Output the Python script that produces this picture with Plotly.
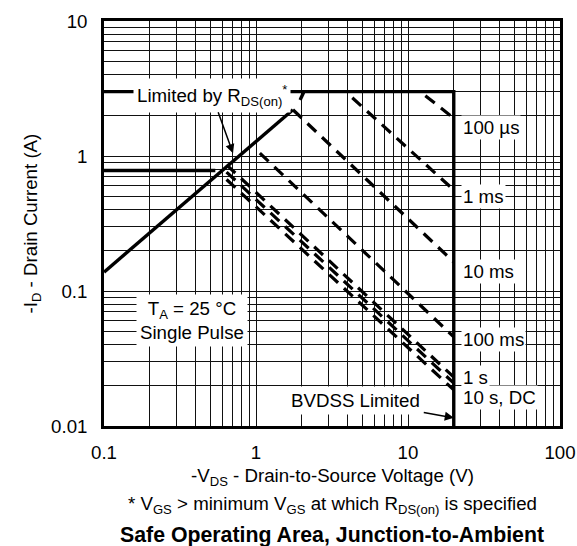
import numpy as np
import plotly.graph_objects as go

# ---------------- data ----------------
# R_DS(on) limit (solid rising line)
rds_v = [0.1, 1.75]
rds_i = [0.138, 2.2]
rds_tip_v = [1.95, 2.07]
rds_tip_i = [2.6, 3.0]
# current limit (3 A) and BVDSS limit (20 V)
limit_v = [0.1, 20, 20]
limit_i = [3.0, 3.0, 0.01]
# flat segment at left
flat_v = [0.1, 0.54]
flat_i = [0.78, 0.78]

# pulse-width lines (dashed)
pulse_names = ["100 µs", "1 ms", "10 ms", "100 ms", "1 s", "10 s", "DC"]
pulse_start_v = [13.0, 4.3, 1.75, 1.06, 0.64, 0.64, 0.64]
pulse_start_i = [2.8, 2.7, 2.2, 1.05, 0.86, 0.76, 0.67]
pulse_end_v = [20, 20, 20, 20, 20, 20, 20]
pulse_end_i = [1.9, 0.56, 0.164, 0.0457, 0.023, 0.0208, 0.0185]

# right-side labels
right_labels = ["100 µs", "1 ms", "10 ms", "100 ms", "10 s, DC", "1 s"]
right_label_i = [1.64, 0.497, 0.1406, 0.0434, 0.0164, 0.0227]

# axes
x_decades = [0.1, 1, 10, 100]
x_decade_text = ["0.1", "1", "10", "100"]
y_decades = [0.01, 0.1, 1, 10]
y_decade_text = ["0.01", "0.1", "1", "10"]

FONT = "Liberation Sans, Arial, Helvetica, sans-serif"
FS = 18.7


def minor_vals(decades):
    return [m * d for d in decades[:-1] for m in range(2, 10)]


def tfont(size=FS):
    return dict(family=FONT, size=size, color="black")


fig = go.Figure()

solid = dict(color="black", width=3.4)
fig.add_trace(go.Scatter(x=rds_v, y=rds_i, mode="lines", line=solid, showlegend=False))
fig.add_trace(go.Scatter(x=rds_tip_v, y=rds_tip_i, mode="lines", line=solid, showlegend=False))
fig.add_trace(go.Scatter(x=limit_v, y=limit_i, mode="lines", line=solid, showlegend=False))
fig.add_trace(go.Scatter(x=flat_v, y=flat_i, mode="lines", line=solid, showlegend=False))

for n, x0, y0, x1, y1 in zip(pulse_names, pulse_start_v, pulse_start_i, pulse_end_v, pulse_end_i):
    fig.add_trace(go.Scatter(x=[x0, x1], y=[y0, y1], mode="lines", name=n,
                             line=dict(color="black", width=3.2, dash="12px,8px"),
                             showlegend=False))

annos = []
for txt, yy in zip(right_labels, right_label_i):
    annos.append(dict(x=np.log10(20), y=np.log10(yy), xref="x", yref="y", text=txt,
                      showarrow=False, xanchor="left", yanchor="middle", xshift=7,
                      bgcolor="white", borderpad=1, font=tfont()))

annos.append(dict(x=np.log10(0.706), y=np.log10(1.05), xref="x", yref="y",
                  text="Limited by R<sub>DS(on)</sub><sup>*</sup>",
                  showarrow=True, ax=-21, ay=-58, arrowhead=2, arrowsize=1.2,
                  arrowwidth=1.5, arrowcolor="black", bgcolor="white", borderpad=3,
                  font=tfont()))
annos.append(dict(x=np.log10(20), y=np.log10(0.0115), xref="x", yref="y",
                  text="BVDSS Limited",
                  showarrow=True, ax=-98, ay=-17, arrowhead=2, arrowsize=1.2,
                  arrowwidth=1.5, arrowcolor="black", bgcolor="white", borderpad=3,
                  font=tfont()))
annos.append(dict(x=-0.421, y=-1.215, xref="x", yref="y",
                  text="T<sub>A</sub> = 25 °C<br>Single Pulse", showarrow=False,
                  bgcolor="white", borderpad=3, font=tfont()))
# axis titles, footnote and caption
annos.append(dict(x=0.5, y=-0.126, xref="paper", yref="paper",
                  text="-V<sub>DS</sub> - Drain-to-Source Voltage (V)",
                  showarrow=False, xanchor="center", yanchor="middle", font=tfont()))
annos.append(dict(x=-0.158, y=0.5, xref="paper", yref="paper",
                  text="-I<sub>D</sub> - Drain Current (A)", textangle=-90,
                  showarrow=False, xanchor="center", yanchor="middle", font=tfont()))
annos.append(dict(x=0.5, y=-0.195, xref="paper", yref="paper",
                  text="* V<sub>GS</sub> > minimum V<sub>GS</sub> at which R<sub>DS(on)</sub> is specified",
                  showarrow=False, xanchor="center", yanchor="middle", font=tfont()))
annos.append(dict(x=0.5, y=-0.269, xref="paper", yref="paper",
                  text="<b>Safe Operating Area, Junction-to-Ambient</b>",
                  showarrow=False, xanchor="center", yanchor="middle", font=tfont(21.3)))

axis_common = dict(type="log", showgrid=True, gridcolor="#111", gridwidth=1.3,
                   showline=True, mirror=True, linecolor="black", linewidth=2.6,
                   ticks="", zeroline=False, automargin=False,
                   tickfont=tfont())

fig.update_layout(
    width=577, height=546,
    margin=dict(l=104, r=17, t=21, b=120, autoexpand=False),
    paper_bgcolor="white", plot_bgcolor="white",
    showlegend=False,
    xaxis=dict(axis_common, range=[-1, 2], tickmode="array",
               tickvals=x_decades, ticktext=x_decade_text,
               minor=dict(tickvals=minor_vals(x_decades), showgrid=True,
                          gridcolor="#111", gridwidth=1.3, ticks=""),
               ticklabelstandoff=8),
    yaxis=dict(axis_common, range=[-2, 1], tickmode="array",
               tickvals=y_decades, ticktext=y_decade_text,
               minor=dict(tickvals=minor_vals(y_decades), showgrid=True,
                          gridcolor="#111", gridwidth=1.3, ticks=""),
               ticklabelstandoff=10),
    annotations=annos,
)

# remove the browser's default 8 px body margin so the figure fills the window
fig.write_html("out.html",
               config={"displayModeBar": False},
               post_script="document.body.style.margin='0';document.body.style.overflow='hidden';")
